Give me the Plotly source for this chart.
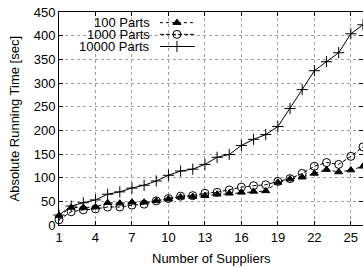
import plotly.graph_objects as go

suppliers = list(range(1, 27))
parts_100 = [20, 37, 37, 38, 47, 46, 48, 48, 51, 55, 59, 60, 62, 65, 67, 69, 71, 72, 90, 97, 101, 109, 117, 112, 116, 124]
parts_1000 = [11, 28, 32, 34, 38, 38, 42, 44, 51, 56, 61, 62, 67, 69, 74, 80, 83, 85, 92, 98, 109, 124, 132, 128, 145, 165]
parts_10000 = [21, 40, 47, 53, 65, 70, 78, 84, 93, 105, 114, 118, 128, 143, 149, 168, 181, 191, 208, 246, 286, 326, 345, 364, 404, 423]
series_names = ["100 Parts", "1000 Parts", "10000 Parts"]
x_ticks = list(range(1, 27, 3))
y_ticks = list(range(0, 451, 50))
x_title = "Number of Suppliers"
y_title = "Absolute Running Time [sec]"

FONT = "Liberation Sans, Arial, sans-serif"
FS = 13
styles = [
    dict(dash="dot", symbol="triangle-up", size=7),
    dict(dash="4px,2px", symbol="circle-open", size=8),
    dict(dash="solid", symbol="cross-thin-open", size=8),
]
data = [parts_100, parts_1000, parts_10000]

fig = go.Figure()
for name, vals, st in zip(series_names, data, styles):
    fig.add_trace(go.Scatter(
        x=suppliers, y=vals, mode="lines+markers", name=name,
        line=dict(color="black", width=1, dash=st["dash"]),
        marker=dict(symbol=st["symbol"], size=st["size"], color="black",
                    line=dict(color="black", width=1)),
        cliponaxis=False, showlegend=False,
    ))

# gnuplot-style key: text right-aligned, sample to its right (drawn on overlay axes)
rows = [0.950, 0.895, 0.838]
for name, st, yy in zip(series_names, styles, rows):
    fig.add_annotation(x=0.306, y=yy, xref="paper", yref="paper", text=name,
                       showarrow=False, xanchor="right", yanchor="middle",
                       font=dict(family=FONT, size=FS, color="black"))
    fig.add_trace(go.Scatter(
        x=[0.332, 0.447], y=[yy, yy], xaxis="x2", yaxis="y2", mode="lines",
        line=dict(color="black", width=1, dash=st["dash"]),
        showlegend=False, hoverinfo="skip"))
    fig.add_trace(go.Scatter(
        x=[0.388], y=[yy], xaxis="x2", yaxis="y2", mode="markers",
        marker=dict(symbol=st["symbol"], size=st["size"], color="black",
                    line=dict(color="black", width=1)),
        showlegend=False, hoverinfo="skip"))

fig.add_shape(type="rect", xref="paper", yref="paper", x0=0.016, x1=0.464, y0=0.812, y1=0.995,
              fillcolor="white", line=dict(width=0), layer="between")

# axis titles
fig.add_annotation(x=0.5, y=-0.155, xref="paper", yref="paper", text=x_title, showarrow=False,
                   xanchor="center", yanchor="middle", font=dict(family=FONT, size=FS, color="black"))
fig.add_annotation(x=-0.145, y=0.5, xref="paper", yref="paper", text=y_title, showarrow=False,
                   textangle=-90, xanchor="center", yanchor="middle",
                   font=dict(family=FONT, size=FS, color="black"))

axis_common = dict(
    showline=True, linecolor="black", linewidth=1, mirror="ticks",
    ticks="inside", ticklen=4, tickcolor="black", automargin=False,
    showgrid=True, gridcolor="#a0a0a0", griddash="dot", gridwidth=1,
    zeroline=False, tickfont=dict(family=FONT, size=FS, color="black"),
)
fig.update_layout(
    width=363, height=268,
    margin=dict(l=59, r=0, t=12, b=43),
    paper_bgcolor="white", plot_bgcolor="white",
    xaxis=dict(range=[1, 26], tickvals=x_ticks, **axis_common),
    yaxis=dict(range=[0, 450], tickvals=y_ticks, **axis_common),
    xaxis2=dict(overlaying="x", range=[0, 1], visible=False),
    yaxis2=dict(overlaying="y", range=[0, 1], visible=False),
)

fig.write_html("out.html", config={"displayModeBar": False},
               post_script="document.body.style.margin='0';document.body.style.overflow='hidden';")
